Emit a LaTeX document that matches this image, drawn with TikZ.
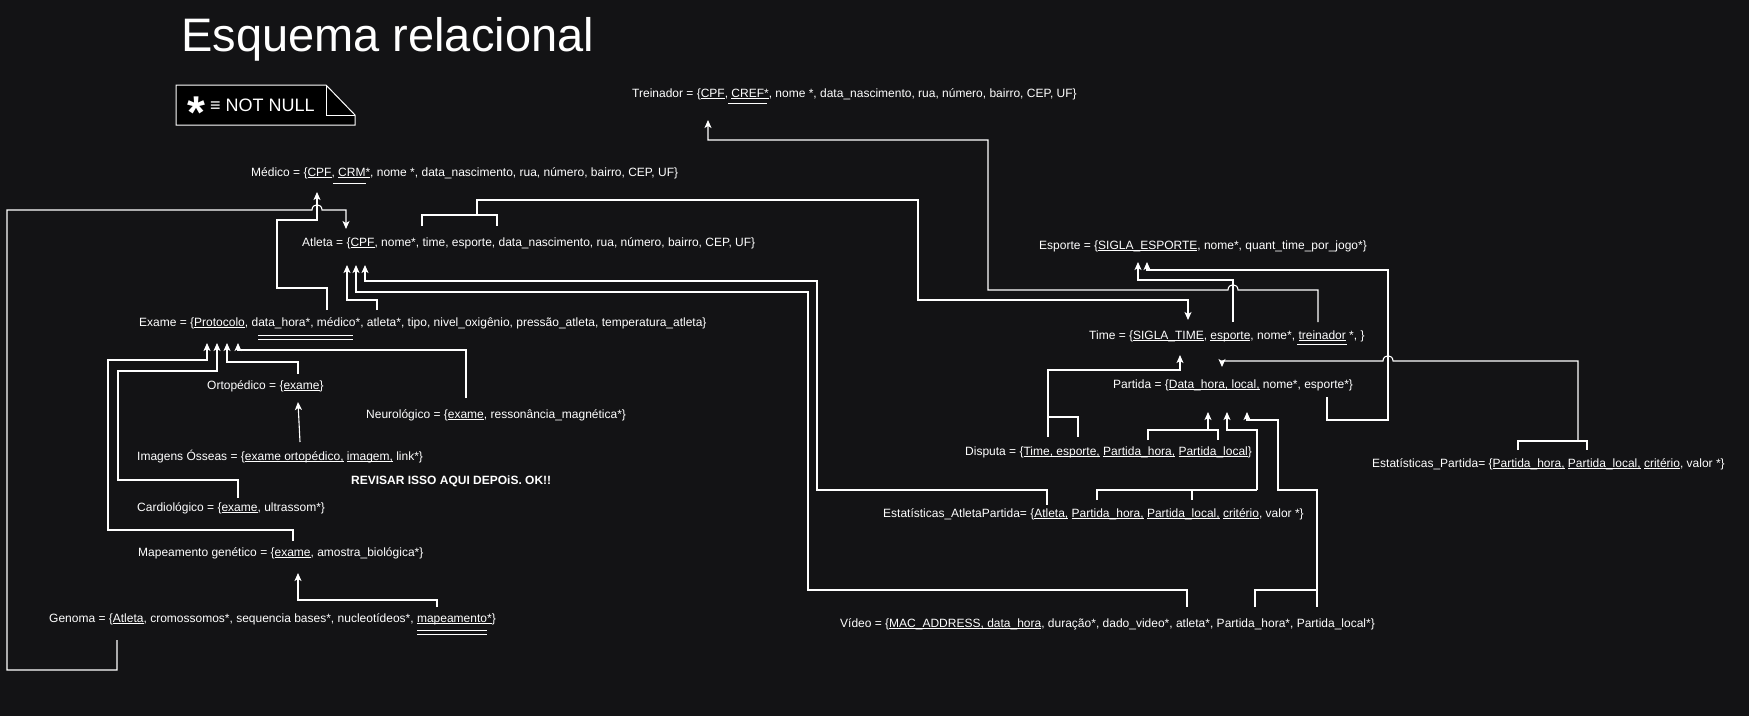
\documentclass[tikz,border=0pt]{standalone}
\usepackage{fontspec}
\setmainfont{Liberation Sans}
\usetikzlibrary{arrows.meta}
\definecolor{fundo}{HTML}{131315}
\newcommand{\pk}[1]{\underline{\smash{#1}}}

\begin{document}
\begin{tikzpicture}[x=1pt, y=-1pt,
    rel/.style={text=white, font=\fontsize{12}{14}\selectfont, inner sep=0pt, anchor=base west},
    link/.style={draw=white, line width=1.1pt},
    seta/.style={link, -{Stealth[length=8pt, width=7pt, inset=2pt]}},
    sublinha/.style={white, line width=0.8pt}]
  \useasboundingbox (0,0) rectangle (1749,716);
  \fill[fundo] (0,0) rectangle (1749,716);

  \node[text=white, font=\fontsize{47}{50}\selectfont, inner sep=0pt, anchor=base west] (titulo) at (181,51) {Esquema relacional};
  \draw[white, fill=black, line width=1pt] (176,85) -- (326,85) -- (355,115) -- (355,125) -- (176,125) -- cycle;
  \draw[white, line width=1pt] (326,85) -- (326,115) -- (355,115);
  \node[text=white, font=\fontsize{46}{46}\selectfont\bfseries, inner sep=0pt, anchor=base] (estrela) at (196,128) {*};
  \node[text=white, font=\fontsize{18}{20}\selectfont, inner sep=0pt, anchor=base west] (notnull) at (210,111) {≡ NOT NULL};

  % relacoes
  \node[rel] (treinador) at (632,97) {Treinador = \{\pk{CPF}, \pk{CREF*}, nome *, data\_nascimento, rua, número, bairro, CEP, UF\}};
  \node[rel] (medico) at (251,176) {Médico = \{\pk{CPF}, \pk{CRM*}, nome *, data\_nascimento, rua, número, bairro, CEP, UF\}};
  \node[rel] (atleta) at (302,246) {Atleta = \{\pk{CPF}, nome*, time, esporte, data\_nascimento, rua, número, bairro, CEP, UF\}};
  \node[rel] (exame) at (139,326) {Exame = \{\pk{Protocolo}, data\_hora*, médico*, atleta*, tipo, nivel\_oxigênio, pressão\_atleta, temperatura\_atleta\}};
  \node[rel] (ortopedico) at (207,389) {Ortopédico = \{\pk{exame}\}};
  \node[rel] (neurologico) at (366,418) {Neurológico = \{\pk{exame}, ressonância\_magnética*\}};
  \node[rel] (imagens) at (137,460) {Imagens Ósseas = \{\pk{exame ortopédico,} \pk{imagem,} link*\}};
  \node[rel, font=\fontsize{12}{14}\selectfont\bfseries] (revisar) at (351,484) {REVISAR ISSO AQUI DEPOiS. OK!!};
  \node[rel] (cardiologico) at (137,511) {Cardiológico = \{\pk{exame}, ultrassom*\}};
  \node[rel] (mapeamento) at (138,556) {Mapeamento genético = \{\pk{exame}, amostra\_biológica*\}};
  \node[rel] (genoma) at (49,622) {Genoma = \{\pk{Atleta}, cromossomos*, sequencia bases*, nucleotídeos*, \pk{mapeamento*}\}};
  \node[rel] (esporte) at (1039,249) {Esporte = \{\pk{SIGLA\_ESPORTE}, nome*, quant\_time\_por\_jogo*\}};
  \node[rel] (time) at (1089,339) {Time = \{\pk{SIGLA\_TIME}, \pk{esporte}, nome*, \pk{treinador} *, \}};
  \node[rel] (partida) at (1113,388) {Partida = \{\pk{Data\_hora, local,} nome*, esporte*\}};
  \node[rel] (disputa) at (965,455) {Disputa = \{\pk{Time, esporte,} \pk{Partida\_hora,} \pk{Partida\_local}\}};
  \node[rel] (estpartida) at (1372,467) {Estatísticas\_Partida= \{\pk{Partida\_hora,} \pk{Partida\_local,} \pk{critério}, valor *\}};
  \node[rel] (estatleta) at (883,517) {Estatísticas\_AtletaPartida= \{\pk{Atleta,} \pk{Partida\_hora,} \pk{Partida\_local,} \pk{critério}, valor *\}};
  \node[rel] (video) at (840,627) {Vídeo = \{\pk{MAC\_ADDRESS, data\_hora}, duração*, dado\_video*, atleta*, Partida\_hora*, Partida\_local*\}};

  % not null
  \draw[sublinha] (728,103) -- (767,103);
  \draw[sublinha] (333,183) -- (366,183);
  \draw[sublinha] (258,335) -- (353,335);
  \draw[sublinha] (258,339) -- (353,339);
  \draw[sublinha] (1297,344) -- (1347,344);
  \draw[sublinha] (417,630) -- (487,630);
  \draw[sublinha] (417,634) -- (487,634);

  % pontas
  \coordinate (gen-atl) at (117,640);
  \coordinate (atl-cpf) at (346,229);
  \coordinate (exa-med) at (327,310);
  \coordinate (med-cpf) at (317,192);
  \coordinate (exa-atl) at (377,310);
  \coordinate (atl-in1) at (347,265);
  \coordinate (vid-atl) at (1187,607);
  \coordinate (atl-in2) at (356,265);
  \coordinate (eap-atl) at (1047,505);
  \coordinate (atl-in3) at (365,265);
  \coordinate (atl-time) at (477,215);
  \coordinate (tim-sig) at (1188,320);
  \coordinate (tim-tre) at (1318,322);
  \coordinate (tre-cpf) at (708,120);
  \coordinate (tim-esp) at (1233,322);
  \coordinate (esp-in1) at (1138,262);
  \coordinate (par-esp) at (1327,397);
  \coordinate (esp-in2) at (1147,262);
  \coordinate (ep-par) at (1578,441);
  \coordinate (par-top) at (1222,367);
  \coordinate (dis-time) at (1048,417);
  \coordinate (tim-in) at (1180,355);
  \coordinate (dis-par) at (1208,430);
  \coordinate (par-in1) at (1208,412);
  \coordinate (eap-par) at (1257,490);
  \coordinate (par-in2) at (1227,412);
  \coordinate (vid-par) at (1317,590);
  \coordinate (par-in3) at (1247,412);
  \coordinate (exa-in1) at (207,343);
  \coordinate (exa-in2) at (217,343);
  \coordinate (exa-in3) at (227,343);
  \coordinate (exa-in4) at (238,343);
  \coordinate (map-exa) at (293,541);
  \coordinate (car-exa) at (238,498);
  \coordinate (ort-exa) at (298,374);
  \coordinate (neu-exa) at (466,398);
  \coordinate (img-ort) at (300,442);
  \coordinate (ort-in) at (298,402);
  \coordinate (gen-map) at (437,607);
  \coordinate (map-in) at (298,573);

  % chaves estrangeiras
  \draw[seta] (gen-atl) -- (117,670) -- (7,670) -- (7,210) -- (312,210) .. controls (312,203) and (322,203) .. (322,210) -- (346,210) -- (atl-cpf);
  \draw[seta] (exa-med) -- (327,288) -- (277,288) -- (277,220) -- (317,220) -- (med-cpf);
  \draw[seta] (exa-atl) -- (377,300) -- (347,300) -- (atl-in1);
  \draw[seta] (vid-atl) -- (1187,590) -- (808,590) -- (808,292) -- (356,292) -- (atl-in2);
  \draw[seta] (eap-atl) -- (1047,490) -- (817,490) -- (817,281) -- (365,281) -- (atl-in3);
  \draw[link] (422,226) -- (422,215) -- (497,215) -- (497,226);
  \draw[seta] (atl-time) -- (477,200) -- (918,200) -- (918,300) -- (1188,300) -- (tim-sig);
  \draw[seta] (tim-tre) -- (1318,290) -- (1238,290) .. controls (1238,283) and (1228,283) .. (1228,290) -- (988,290) -- (988,140) -- (708,140) -- (tre-cpf);
  \draw[seta] (tim-esp) -- (1233,280) -- (1138,280) -- (esp-in1);
  \draw[seta] (par-esp) -- (1327,420) -- (1388,420) -- (1388,270) -- (1147,270) -- (esp-in2);
  \draw[link] (1518,450) -- (1518,441) -- (1587,441) -- (1587,450);
  \draw[seta] (ep-par) -- (1578,361) -- (1393,361) .. controls (1393,354) and (1383,354) .. (1383,361) -- (1222,361) -- (par-top);
  \draw[link] (1048,437) -- (1048,417) -- (1078,417) -- (1078,437);
  \draw[seta] (dis-time) -- (1048,370) -- (1180,370) -- (tim-in);
  \draw[link] (1148,440) -- (1148,430) -- (1218,430) -- (1218,440);
  \draw[seta] (dis-par) -- (par-in1);
  \draw[link] (1097,500) -- (1097,490) -- (1257,490);
  \draw[link] (1192,490) -- (1192,500);
  \draw[seta] (eap-par) -- (1257,430) -- (1227,430) -- (par-in2);
  \draw[link] (1255,607) -- (1255,590) -- (1317,590) -- (1317,607);
  \draw[seta] (vid-par) -- (1317,490) -- (1278,490) -- (1278,420) -- (1247,420) -- (par-in3);
  \draw[seta] (map-exa) -- (293,530) -- (108,530) -- (108,360) -- (207,360) -- (exa-in1);
  \draw[seta] (car-exa) -- (238,480) -- (118,480) -- (118,371) -- (217,371) -- (exa-in2);
  \draw[seta] (ort-exa) -- (298,362) -- (227,362) -- (exa-in3);
  \draw[seta] (neu-exa) -- (466,350) -- (238,350) -- (exa-in4);
  \draw[seta] (img-ort) -- (ort-in);
  \draw[seta] (gen-map) -- (437,600) -- (298,600) -- (map-in);
\end{tikzpicture}
\end{document}
